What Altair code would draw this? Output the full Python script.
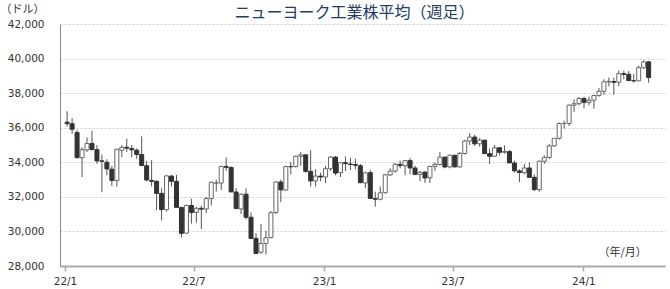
import altair as alt
import pandas as pd

# Weekly OHLC of the Dow Jones Industrial Average, one candle per week from Jan 2022
opens = [
    36321, 36229, 35719, 34265, 34716, 35090, 34730, 34080, 34000, 33600,
    32950, 34700, 34870, 34800, 34700, 34450, 33800, 32950, 32900, 32200,
    31260, 33200, 32900, 31390, 29900, 31500, 31100, 31340, 31300, 31900,
    32800, 32800, 33760, 33700, 32280, 31300, 32150, 30820, 29600, 28800,
    29300, 29650, 31100, 32860, 32400, 33750, 33750, 34350, 34430, 33480,
    32920, 33200,
    33150, 33630, 34300, 33400, 33980, 33900, 33870, 33800, 32800, 33400,
    31900, 31860, 32240, 33270, 33490, 33880, 33800, 34100, 33670, 33300,
    33430, 33100, 33760, 33880, 34300, 33730, 34400, 33730, 34510, 35230,
    35460, 35070, 35280, 34500, 34350, 34840, 34580, 34620, 33960, 33500,
    33400, 33670, 33130, 32420, 34060, 34280, 34950, 35390, 36245, 36250,
    37300, 37390,
    37690, 37470, 37590, 37860, 38110, 38650, 38670, 38630, 39130, 39090,
    38720, 38710, 39470, 39810,
]
highs = [
    36953, 36561, 35859, 34870, 35440, 35825, 34988, 34450, 34170, 33800,
    34790, 35000, 35370, 35000, 34800, 35500, 34080, 34120, 32950, 32500,
    33250, 33270, 33270, 31400, 31550, 31900, 31420, 31480, 32000, 32900,
    32990, 33800, 34281, 33760, 32500, 32200, 32500, 31100, 29900, 30430,
    30040, 31180, 32900, 33000, 33800, 34000, 34400, 34600, 34450, 34700,
    33600, 33400,
    33800, 34350, 34350, 34000, 34340, 34250, 34200, 33900, 33450, 33570,
    32300, 32600, 33300, 33650, 33950, 34100, 34100, 34250, 33800, 33500,
    33500, 33800, 34000, 34600, 34300, 34450, 34450, 34600, 35300, 35680,
    35600, 35400, 35300, 34800, 35000, 34850, 34980, 34700, 34100, 33600,
    33900, 34000, 33300, 34100, 34400, 35050, 35400, 36300, 36400, 37350,
    37650, 37780,
    37800, 37800, 37900, 38300, 38800, 38900, 38900, 39300, 39300, 39280,
    39100, 39600, 39900, 39850,
]
lows = [
    36070, 35650, 34240, 33150, 34600, 34680, 33920, 32272, 33250, 32630,
    32580, 34300, 34600, 34300, 34200, 33800, 32900, 32600, 31230, 30640,
    31150, 32600, 31390, 29650, 29870, 30450, 30500, 30140, 31050, 31500,
    32300, 32400, 33500, 32280, 31300, 31000, 30700, 29560, 28715, 28700,
    28660, 29600, 31000, 31700, 32350, 33300, 33700, 33800, 33400, 32600,
    32580, 32900,
    32800, 33500, 33250, 33150, 33500, 33550, 33600, 32800, 32500, 31900,
    31430, 31800, 32200, 33200, 33400, 33650, 33250, 33300, 33250, 32900,
    32800, 32800, 33500, 33800, 33650, 33650, 33700, 33700, 34450, 35000,
    34950, 34900, 34500, 33900, 34300, 34400, 34500, 33950, 33400, 32850,
    33300, 33100, 32330, 32300, 33900, 34200, 34900, 35300, 35950, 36100,
    36900, 37300,
    37120, 37300, 37100, 37800, 37900, 38400, 37900, 38400, 38800, 38700,
    38600, 38700, 39400, 38600,
]
closes = [
    36231, 35912, 34265, 34725, 35089, 34738, 34079, 34059, 33615, 32944,
    34754, 34861, 34818, 34721, 34451, 33811, 32977, 32899, 32197, 31262,
    33213, 32900, 31393, 29889, 31501, 31097, 31338, 31289, 31900, 32845,
    32803, 33761, 33707, 32283, 31318, 32151, 30822, 29590, 28725, 29296,
    29634, 31082, 32861, 32403, 33747, 33746, 34347, 34429, 33476, 32920,
    33203, 33147,
    33630, 34302, 33375, 33978, 33926, 33869, 33827, 32817, 33391, 31910,
    31862, 32238, 33274, 33485, 33886, 33809, 34098, 33674, 33300, 33427,
    33093, 33763, 33877, 34299, 33727, 34408, 33734, 34509, 35228, 35459,
    35066, 35281, 34500, 34346, 34838, 34577, 34618, 33964, 33507, 33407,
    33670, 33127, 32418, 34061, 34283, 34947, 35390, 36245, 36247, 37305,
    37385, 37689,
    37466, 37592, 37863, 38109, 38654, 38671, 38627, 39131, 39087, 38723,
    38714, 39475, 39807, 38904,
]
weeks = pd.date_range(start="2022-01-04", periods=len(closes), freq="W-TUE")

y_ticks = [28000, 30000, 32000, 34000, 36000, 38000, 40000, 42000]
x_ticks = [
    alt.DateTime(year=2022, month=1, date=1),
    alt.DateTime(year=2022, month=7, date=1),
    alt.DateTime(year=2023, month=1, date=1),
    alt.DateTime(year=2023, month=7, date=1),
    alt.DateTime(year=2024, month=1, date=1),
]

df = pd.DataFrame({
    "week": weeks.strftime("%Y-%m-%d"),
    "open": opens,
    "high": highs,
    "low": lows,
    "close": closes,
})
df["up"] = df["close"] >= df["open"]

JP = "Noto Sans CJK JP"
NUM = "DejaVu Sans"

x_axis = alt.Axis(
    values=x_ticks,
    format="%y/%-m",
    title="（年/月）",
    titleX=538, titleY=-14,
    titleAlign="left", titleBaseline="middle",
    titleFont=JP, titleFontSize=11, titleFontWeight="normal",
    titleColor="#333333",
    labelFont=NUM, labelFontSize=10.5, labelColor="#333333",
    labelPadding=5,
    domainColor="#aaaaaa", domainWidth=2,
    tickColor="#aaaaaa", tickSize=5, tickWidth=1.5,
    grid=False,
)
y_axis = alt.Axis(
    values=y_ticks,
    format=",.0f",
    title="（ドル）",
    titleAngle=0,
    titleX=-60, titleY=-15,
    titleAlign="left", titleBaseline="middle",
    titleFont=JP, titleFontSize=11, titleFontWeight="normal",
    titleColor="#333333",
    labelFont=NUM, labelFontSize=10.5, labelColor="#333333",
    labelPadding=16,
    labelOverlap=False,
    ticks=False,
    domainColor="#888888", domainWidth=1,
    grid=True, gridColor="#cccccc", gridDash=[2, 2], gridWidth=1,
)
x_scale = alt.Scale(domain=[alt.DateTime(year=2022, month=1, date=1),
                            alt.DateTime(year=2024, month=4, date=18)])
y_scale = alt.Scale(domain=[28000, 42000], nice=False, zero=False)

# high-low wicks
wicks = alt.Chart(df).mark_rule(color="#555555", strokeWidth=1).encode(
    x=alt.X("week:T", scale=x_scale, axis=x_axis),
    y=alt.Y("low:Q", scale=y_scale, axis=y_axis),
    y2="high:Q",
)

# open-close bodies: white when the week closed higher, dark when lower
bodies = alt.Chart(df).mark_bar(size=4, strokeWidth=1).encode(
    x=alt.X("week:T", scale=x_scale, axis=x_axis),
    y=alt.Y("open:Q", scale=y_scale, axis=y_axis),
    y2="close:Q",
    fill=alt.condition("datum.up", alt.value("#ffffff"), alt.value("#333333")),
    stroke=alt.condition("datum.up", alt.value("#666666"), alt.value("#333333")),
)

chart = (
    alt.layer(wicks, bodies)
    .properties(
        width=605,
        height=242,
        autosize=alt.AutoSizeParams(type="none"),
        padding={"left": 60, "top": 24, "right": 5, "bottom": 23},
        title=alt.TitleParams(
            "ニューヨーク工業株平均（週足）",
            font=JP, fontSize=16, fontWeight="normal",
            color="#233a66", anchor="middle", offset=0, dx=-8, dy=18,
        ),
    )
    .configure_view(stroke=None)
)

chart.save("out.html", embed_options={"renderer": "svg", "actions": False})
